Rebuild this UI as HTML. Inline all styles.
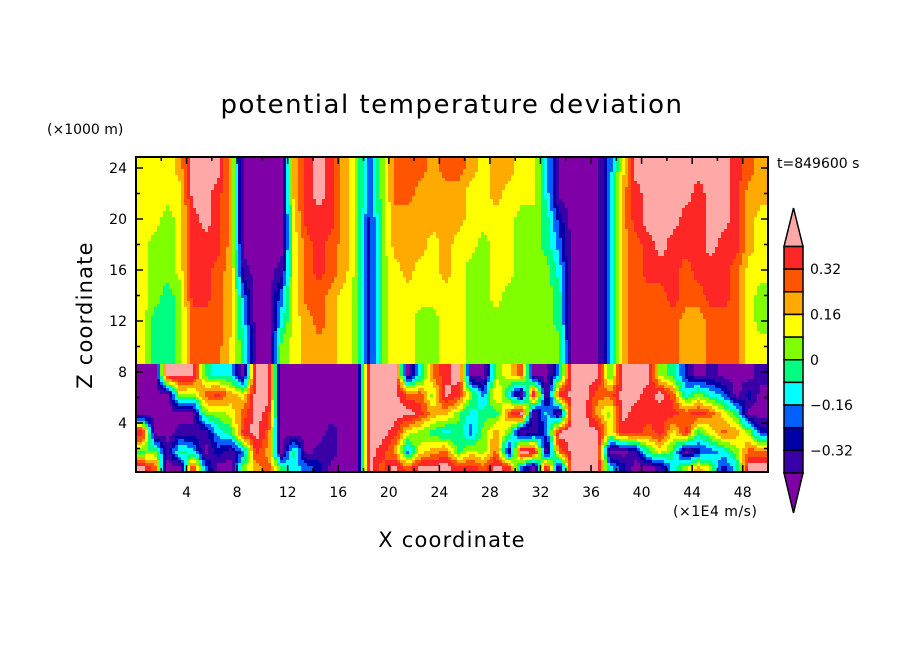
<!DOCTYPE html>
<html><head><meta charset="utf-8"><style>
body{margin:0;background:#fff;}
svg text{font-family:"DejaVu Sans","Liberation Sans",sans-serif;fill:#000;}
</style></head><body>
<svg id="chart" width="904" height="654" viewBox="0 0 904 654" xmlns="http://www.w3.org/2000/svg">
<rect width="904" height="654" fill="#fff"/>
<text x="452" y="113" font-size="26" letter-spacing="1.5" text-anchor="middle">potential temperature deviation</text>
<text x="47" y="134" font-size="14">(×1000 m)</text>
<text x="777" y="168" font-size="14">t=849600 s</text>
<text x="673" y="516" font-size="14" letter-spacing="0.5">(×1E4 m/s)</text>
<text x="452" y="547" font-size="21" letter-spacing="1.2" text-anchor="middle">X coordinate</text>
<text x="0" y="0" font-size="21" letter-spacing="1.2" text-anchor="middle" transform="translate(92,315) rotate(-90)">Z coordinate</text>
<g id="field" shape-rendering="crispEdges"></g>
<g id="axes"></g>
<g id="cbar"></g>
</svg>
<script>
const levelColors=["#8000a8","#3a00a8","#0000a8","#0060ff","#00ffff","#00ff80","#80ff00","#ffff00","#ffaa00","#ff5500","#ff2626","#ffa8a8"];
const xTicks=[4,8,12,16,20,24,28,32,36,40,44,48];
const zTicks=[4,8,12,16,20,24];
const cbarLabels=["0.32","0.16","0","−0.16","−0.32"];
const upperEdges=[25,23,21,19,17,15,13,11,8.6];
const lowerEdges=[8.6,7,5.5,4,2.5,1,0];
const upperCols=[
[7,7,7,7,7,7,7,7],[7,7,7,6,6,6,5,5],[7,7,6,6,6,5,5,5],[8,7,7,7,7,6,6,6],[11,11,10,10,10,10,9,9],
[11,11,11,10,10,10,9,9],[11,10,10,10,9,9,9,9],[8,8,8,8,8,8,8,7],[0,0,0,0,1,3,4,5],[0,0,0,0,0,0,0,0],
[0,0,0,0,0,0,0,0],[0,0,0,0,1,3,4,6],[8,8,7,7,7,7,7,7],[10,10,10,9,9,9,8,8],[11,11,10,10,10,9,9,8],
[10,10,10,9,9,8,8,8],[8,8,8,8,8,7,7,7],[6,6,6,6,6,6,6,6],[3,3,2,2,2,2,2,2],[6,6,6,6,6,6,6,6],
[9,9,8,8,7,7,7,7],[9,9,8,8,8,7,7,7],[9,8,8,8,7,7,6,6],[8,8,8,7,7,7,6,6],[9,8,8,8,8,7,7,7],
[9,8,8,7,7,7,7,7],[8,7,7,7,6,6,6,6],[7,7,7,6,6,6,6,6],[8,8,7,7,7,7,6,6],[8,7,7,7,7,6,6,6],
[7,7,6,6,6,6,6,6],[7,7,6,6,6,6,6,6],[4,4,5,5,6,6,6,6],[0,0,2,3,4,5,5,6],[0,0,0,0,0,0,0,0],
[0,0,0,0,0,0,0,0],[0,0,0,0,0,0,0,0],[3,3,3,3,3,3,3,3],[7,8,8,8,8,8,8,8],[11,10,10,9,9,9,9,9],
[11,11,11,10,10,9,9,9],[11,11,11,11,10,9,9,9],[11,11,11,10,10,10,9,9],[11,11,10,10,9,9,8,8],[11,10,10,10,10,9,8,8],
[11,11,11,11,10,10,9,9],[11,11,11,10,10,10,9,9],[10,10,10,10,9,9,9,9],[9,8,8,8,7,7,7,7],[8,8,7,7,7,6,6,7]];
const lowerCols=[
[0,0,0,11,5,11],[0,0,0,0,6,9],[11,0,0,0,1,0],[11,7,0,1,5,0],[11,6,0,1,4,10],
[5,9,6,1,0,3],[4,10,6,4,2,0],[4,8,7,5,1,0],[0,7,9,10,3,6],[11,11,11,11,10,8],
[11,11,10,9,8,9],[0,0,0,0,0,5],[0,0,0,0,5,4],[0,0,0,0,0,3],[0,0,0,0,1,2],
[0,0,0,1,1,0],[0,0,0,0,0,0],[0,0,0,0,0,0],[11,11,11,11,11,11],[11,11,11,11,10,9],
[11,11,11,10,8,11],[0,9,11,7,3,9],[4,9,10,6,7,11],[9,6,8,5,8,11],[10,11,8,4,9,11],
[11,10,6,5,5,10],[0,6,4,3,7,10],[0,3,5,6,6,9],[6,8,5,8,9,11],[7,4,9,6,1,10],
[9,0,11,0,11,3],[0,11,0,1,11,0],[0,0,4,3,0,11],[4,10,0,11,9,0],[11,11,11,11,11,11],
[11,11,11,11,11,11],[11,9,8,11,11,11],[5,9,6,7,0,4],[11,11,11,10,0,2],[11,11,10,10,1,0],
[11,10,10,9,5,0],[6,11,10,10,7,1],[5,9,10,7,5,4],[2,4,9,10,0,6],[0,6,10,5,2,8],
[1,4,9,7,3,6],[0,3,7,9,4,2],[0,0,5,8,6,4],[0,2,0,6,9,11],[1,0,0,2,9,11]];

const NS="http://www.w3.org/2000/svg";
const X0=136,X1=768,Y0=157,Y1=472;
function xs(u){return X0+u*(X1-X0)/50;}
function zs(z){return Math.max(Y0,Math.min(Y1,474-z*12.75));}
function zinv(y){return (474-y)/12.75;}
function uinv(x){return (x-X0)*50/(X1-X0);}
function mk(tag,attrs,parent){const e=document.createElementNS(NS,tag);for(const k in attrs)e.setAttribute(k,attrs[k]);parent.appendChild(e);return e;}
const field=document.getElementById('field');
function sample(cols,edges,u,z){
  const nc=cols.length,nr=edges.length-1;
  let cu=Math.max(0,Math.min(nc-1,u-0.5));
  const i0=Math.floor(cu),i1=Math.min(nc-1,i0+1),fu=cu-i0;
  const centers=[];for(let j=0;j<nr;j++)centers.push((edges[j]+edges[j+1])/2);
  let j0=0,fz=0;
  if(z>=centers[0]){j0=0;fz=0;}
  else if(z<=centers[nr-1]){j0=nr-1;fz=0;}
  else{for(let j=0;j<nr-1;j++){if(z<=centers[j]&&z>=centers[j+1]){j0=j;fz=(centers[j]-z)/(centers[j]-centers[j+1]);break;}}}
  const j1=Math.min(nr-1,j0+1);
  const a=cols[i0][j0]*(1-fz)+cols[i0][j1]*fz;
  const b=cols[i1][j0]*(1-fz)+cols[i1][j1]*fz;
  return Math.max(0,Math.min(11,Math.round(a*(1-fu)+b*fu)));
}
const STEP=3;
const splitY=zs(8.6);
function emit(x0,x1,y,h,v,upper){
  const r=mk('rect',{x:x0,y:y,width:x1-x0,height:h,fill:levelColors[v]},field);
  
  
}
for(let y=Y0;y<Y1;y+=STEP){
  const h=Math.min(STEP,Y1-y);
  const yc=y+h/2;const z=zinv(yc);
  const upper=yc<splitY;
  const cols=upper?upperCols:lowerCols, edges=upper?upperEdges:lowerEdges;
  let runStart=X0,runVal=null;
  for(let x=X0;x<X1;x+=STEP){
    const w=Math.min(STEP,X1-x);
    const v=sample(cols,edges,uinv(x+w/2),z);
    if(runVal===null){runVal=v;runStart=x;continue;}
    if(v!==runVal){emit(runStart,x,y,h,runVal,upper);runVal=v;runStart=x;}
  }
  emit(runStart,X1,y,h,runVal,upper);
}
const ax=document.getElementById('axes');
const frame=mk('rect',{x:X0,y:Y0,width:X1-X0,height:Y1-Y0,fill:'none',stroke:'#000','stroke-width':2},ax);


for(let u=2;u<50;u+=2){
  const L=(u%4==0)?7:4;
  mk('line',{x1:xs(u),x2:xs(u),y1:Y1,y2:Y1-L,stroke:'#000','stroke-width':1.5},ax);
  mk('line',{x1:xs(u),x2:xs(u),y1:Y0,y2:Y0+L,stroke:'#000','stroke-width':1.5},ax);
}
xTicks.forEach(t=>{
  const tx=mk('text',{x:xs(t),y:497,'font-size':14,'text-anchor':'middle'},ax);
  tx.textContent=t;
  
  
});
for(let z=2;z<25;z+=2){
  const L=(z%4==0)?7:4;
  mk('line',{x1:X0,x2:X0+L,y1:zs(z),y2:zs(z),stroke:'#000','stroke-width':1.5},ax);
  mk('line',{x1:X1,x2:X1-L,y1:zs(z),y2:zs(z),stroke:'#000','stroke-width':1.5},ax);
}
zTicks.forEach(t=>{
  const tx=mk('text',{x:127,y:zs(t)+5,'font-size':14,'text-anchor':'end'},ax);
  tx.textContent=t;
  
  
});
const cb=document.getElementById('cbar');
const cx0=784,cx1=803,ct=246.5,cbt=473,bh=(cbt-ct)/10;
const up=mk('polygon',{points:`${cx0},${ct} ${cx1},${ct} ${(cx0+cx1)/2},208`,fill:levelColors[11],stroke:'#000','stroke-width':1.5},cb);


const dn=mk('polygon',{points:`${cx0},${cbt} ${cx1},${cbt} ${(cx0+cx1)/2},513`,fill:levelColors[0],stroke:'#000','stroke-width':1.5},cb);


for(let k=0;k<10;k++){
  const r=mk('rect',{x:cx0,y:ct+k*bh,width:cx1-cx0,height:bh,fill:levelColors[10-k],stroke:'#000','stroke-width':1.5},cb);
  
  
}
cbarLabels.forEach((s,k)=>{
  const t=mk('text',{x:810,y:ct+bh*(1+2*k)+5,'font-size':14},cb);
  t.textContent=s;
  
  
});
</script>
</body></html>
